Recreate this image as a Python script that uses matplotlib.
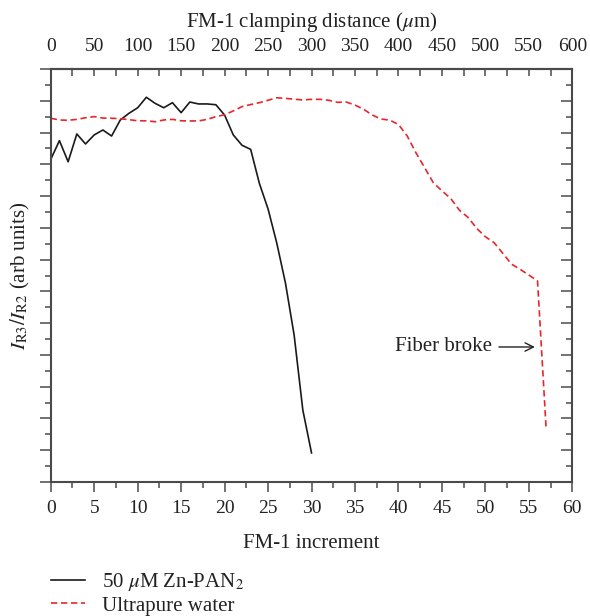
import numpy as np
import matplotlib
matplotlib.use("Agg")
import matplotlib.pyplot as plt
from matplotlib.ticker import MultipleLocator

plt.rcParams['font.family'] = ['Liberation Serif', 'DejaVu Serif']
plt.rcParams['mathtext.fontset'] = 'stix'

# 50 uM Zn-PAN2 (FM-1 increments 0..30)
zn_x = np.arange(0, 31)
zn_y = [20.31, 21.49, 20.16, 21.91, 21.28, 21.85, 22.16, 21.78, 22.79, 23.21,
        23.56, 24.22, 23.84, 23.56, 23.88, 23.25, 23.92, 23.80, 23.80, 23.75,
        23.10, 21.85, 21.20, 20.94, 18.80, 17.19, 15.05, 12.53, 9.25, 4.53,
        1.83]

# Ultrapure water (FM-1 increments 0..57)
water_x = np.arange(0, 58)
water_y = [22.90, 22.79, 22.77, 22.83, 22.93, 23.00, 22.91, 22.90, 22.87, 22.81,
           22.74, 22.74, 22.68, 22.79, 22.83, 22.74, 22.73, 22.73, 22.83, 23.00,
           23.12, 23.36, 23.63, 23.76, 23.88, 24.03, 24.19, 24.15, 24.10, 24.05,
           24.09, 24.09, 24.03, 23.90, 23.92, 23.73, 23.46, 23.10, 22.85, 22.78,
           22.51, 21.79, 20.74, 19.80, 18.85, 18.33, 17.86, 17.12, 16.66, 15.97,
           15.44, 15.07, 14.40, 13.72, 13.39, 13.03, 12.66, 3.27]

spine_col = '#4a4a4a'
txt_col = '#222222'

fig = plt.figure(figsize=(5.9, 6.16), dpi=100)
ax = fig.add_axes([0.086, 0.2175, 0.884, 0.6705])

l1, = ax.plot(zn_x, zn_y, color='#1a1a1a', lw=1.2)
l2, = ax.plot(water_x, water_y, color='#e8262a', lw=1.2)
l2.set_dashes([3.8, 2.2])

ax.set_xlim(0, 60)
ax.set_ylim(0, 26)
ax.xaxis.set_major_locator(MultipleLocator(5))
ax.xaxis.set_minor_locator(MultipleLocator(2.5))
ax.yaxis.set_major_locator(MultipleLocator(2))
ax.yaxis.set_minor_locator(MultipleLocator(1))
ax.set_yticklabels([])
ax.tick_params(axis='x', which='both', direction='out', top=False,
               labelsize=14, colors=spine_col, labelcolor=txt_col, pad=6)
ax.tick_params(axis='x', which='major', length=7, width=1.1)
ax.tick_params(axis='x', which='minor', length=4, width=1.1)
ax.tick_params(axis='y', which='both', direction='out', right=False,
               colors=spine_col)
ax.tick_params(axis='y', which='major', length=8, width=1.1)
ax.tick_params(axis='y', which='minor', length=4, width=1.1)
for s in ax.spines.values():
    s.set_color(spine_col)
    s.set_linewidth(1.5)

# right axis with inward ticks
axr = ax.twinx()
axr.set_ylim(0, 26)
axr.yaxis.set_major_locator(MultipleLocator(2))
axr.yaxis.set_minor_locator(MultipleLocator(1))
axr.set_yticklabels([])
axr.tick_params(axis='y', which='both', direction='in', colors=spine_col)
axr.tick_params(axis='y', which='major', length=8, width=1.1)
axr.tick_params(axis='y', which='minor', length=4, width=1.1)
for s in axr.spines.values():
    s.set_visible(False)

# top axis: clamping distance (10 um per increment)
sec = ax.secondary_xaxis('top', functions=(lambda x: x * 10, lambda x: x / 10))
sec.xaxis.set_major_locator(MultipleLocator(50))
sec.xaxis.set_minor_locator(MultipleLocator(25))
sec.tick_params(which='both', direction='in', labelsize=14, pad=10,
                colors=spine_col, labelcolor=txt_col)
sec.tick_params(which='major', length=5, width=1.1)
sec.tick_params(which='minor', length=5, width=1.1)
sec.spines['top'].set_color(spine_col)
sec.spines['top'].set_linewidth(1.5)
sec.set_xlabel(r"FM-1 clamping distance ($\mu$m)", fontsize=15, labelpad=8,
               color=txt_col)

ax.set_xlabel("FM-1 increment", fontsize=15, labelpad=12, color=txt_col)
ax.set_ylabel(r"$I_{\rm R3}/I_{\rm R2}$ (arb units)", fontsize=15,
              labelpad=2, color=txt_col)

ax.annotate("Fiber broke", xy=(55.7, 8.5), xytext=(39.6, 8.5),
            fontsize=15, color=txt_col, va='center', ha='left',
            arrowprops=dict(arrowstyle='->', color=txt_col, lw=1.0,
                            shrinkA=3, shrinkB=0))

fig.legend([l1, l2], [r"50 $\mu$M Zn-PAN$_2$", "Ultrapure water"],
           loc='lower left', bbox_to_anchor=(0.055, -0.03), frameon=False,
           fontsize=15, handlelength=1.6, handletextpad=0.85,
           labelspacing=0.15, labelcolor=txt_col)

fig.savefig("out.png", dpi=100)
